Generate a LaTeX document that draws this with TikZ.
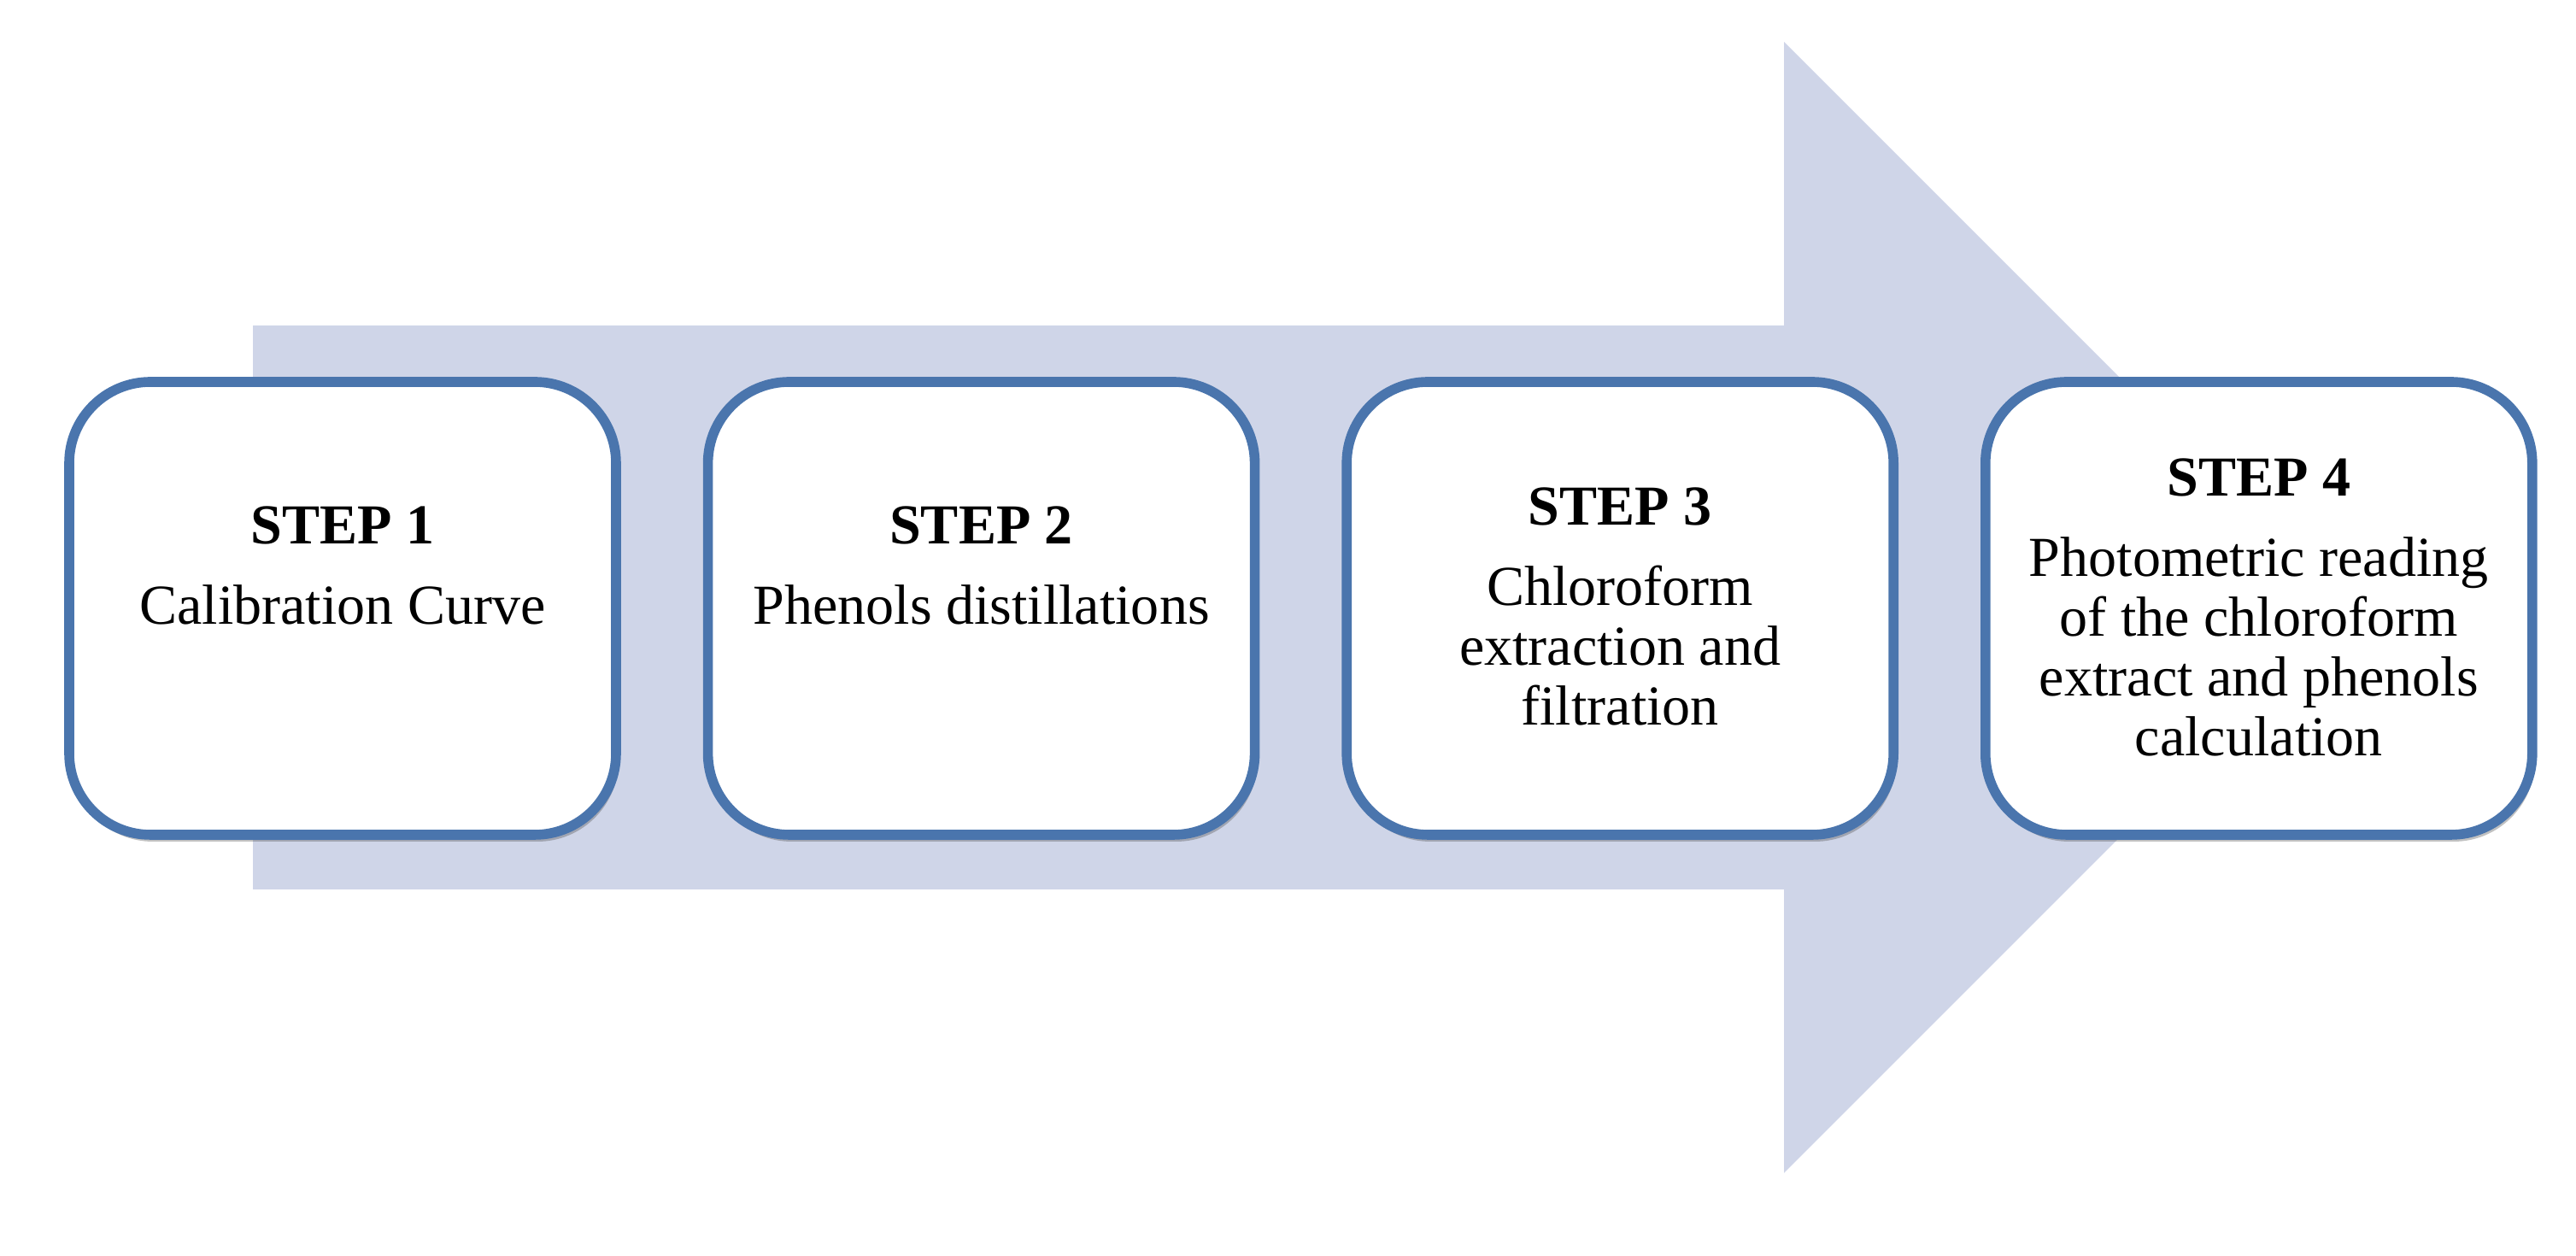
\documentclass[tikz,border=0pt]{standalone}
\usepackage{fontspec}
\setmainfont{Liberation Serif}
\usetikzlibrary{positioning, calc, shadows}
\definecolor{flowfill}{RGB}{207,213,232}
\definecolor{boxblue}{RGB}{74,117,173}
\tikzset{stepbox/.style={draw=boxblue, line width=3.3pt, fill=white, rounded corners=0.95cm, minimum width=6.4cm, minimum height=5.3cm, drop shadow={opacity=0.35, fill=black!70, shadow xshift=0.03cm, shadow yshift=-0.08cm}}}
\tikzset{steptxt/.style={anchor=north, inner sep=0pt, align=center, font=\fontsize{18.8}{19.9}\selectfont}}
\tikzset{flow/.style={fill=flowfill, draw=none}}
\newcommand{\steptitle}[1]{\textbf{#1}\\[7pt]}

\begin{document}
\begin{tikzpicture}
			\useasboundingbox (0,0) rectangle (30.15,14.70);
			% big arrow behind the steps
			\fill[flow] (2.96,4.29) -- (2.96,10.89) -- (20.88,10.89) -- (20.88,14.21)
				-- (27.50,7.59) -- (20.88,0.97) -- (20.88,4.29) -- cycle;
			%
			\node[stepbox] (step1) at (4.01,7.58) {};
			\node[stepbox, right=0.96 of step1] (step2) {};
			\node[stepbox, right=0.96 of step2] (step3) {};
			\node[stepbox, right=0.96 of step3] (step4) {};
			%
			\node[steptxt] (txt1) at ([yshift=1.20cm]step1.center) {\steptitle{STEP 1}Calibration Curve};
			\node[steptxt] (txt2) at ([yshift=1.20cm]step2.center) {\steptitle{STEP 2}Phenols distillations};
			\node[steptxt] (txt3) at ([yshift=1.42cm]step3.center)
				{\steptitle{STEP 3}Chloroform\\extraction and\\filtration};
			\node[steptxt] (txt4) at ([yshift=1.76cm]step4.center)
				{\steptitle{STEP 4}Photometric reading\\of the chloroform\\extract and phenols\\calculation};
\end{tikzpicture}
\end{document}
